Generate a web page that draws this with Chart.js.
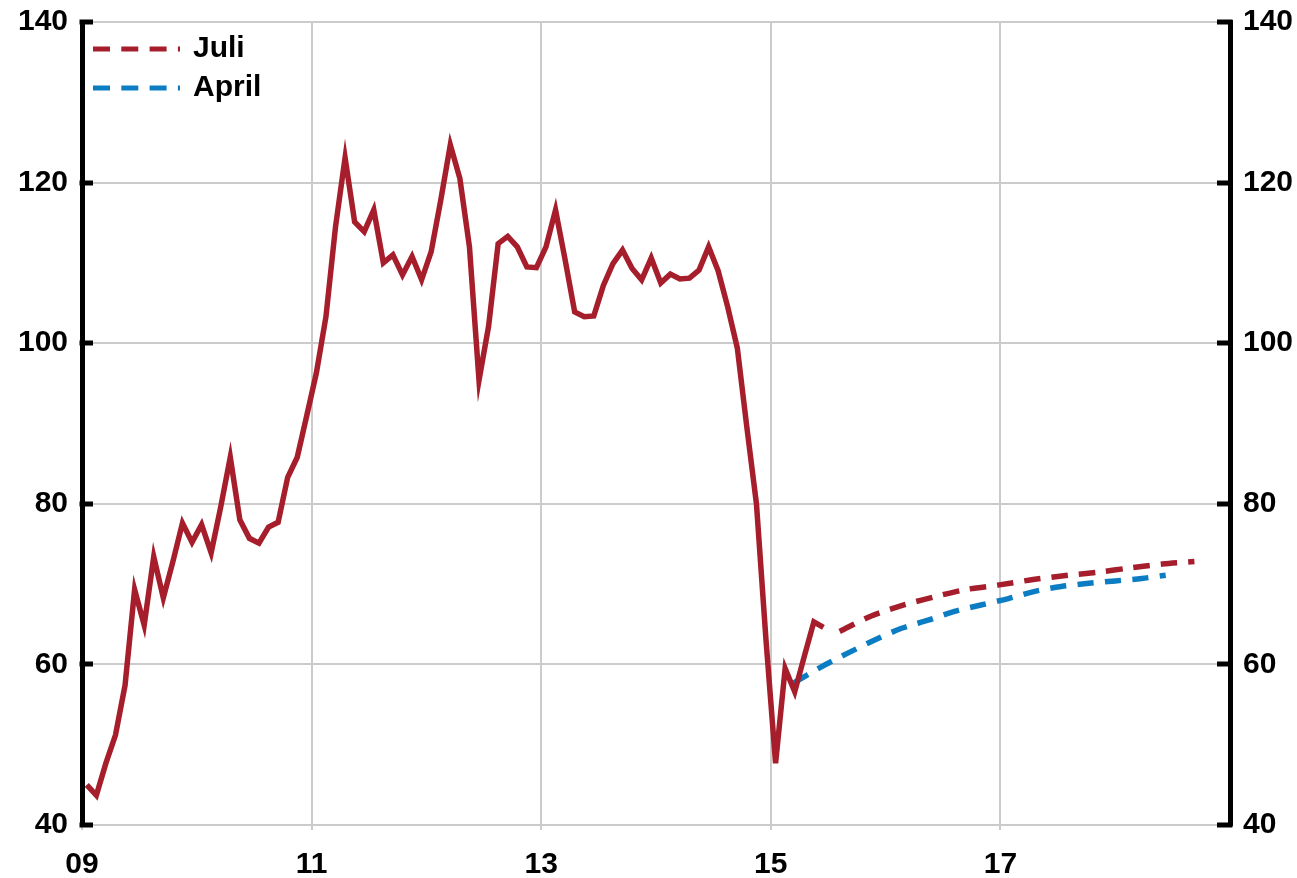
<!DOCTYPE html>
<html>
<head>
<meta charset="utf-8">
<script src="https://cdn.jsdelivr.net/npm/chart.js@4.4.1/dist/chart.umd.min.js"></script>
<style>
html,body{margin:0;padding:0;background:#fff;}
#wrap{width:1297px;height:878px;position:relative;}
</style>
</head>
<body>
<div id="wrap"><canvas id="c"></canvas></div>
<script>
// ---- Data ----
const startYear = 2009; // monthly observations from January 2009
const actualValues = [
  45.0, 43.7, 47.7, 51.2, 57.4, 69.3, 64.9, 73.4, 68.3, 72.8, 77.6, 75.2,
  77.4, 73.9, 79.6, 85.8, 78.0, 75.7, 75.1, 77.1, 77.7, 83.3, 85.8, 91.0,
  96.3, 103.3, 114.5, 123.1, 115.1, 113.9, 116.6, 110.0, 111.0, 108.5, 110.8, 107.9,
  111.4, 117.8, 124.7, 120.5, 112.0, 95.4, 102.1, 112.4, 113.3, 112.0, 109.5, 109.4,
  112.0, 116.6, 110.4, 103.9, 103.3, 103.4, 107.2, 109.9, 111.6, 109.3, 107.9, 110.6,
  107.5, 108.6, 108.0, 108.1, 109.1, 112.0, 109.0, 104.5, 99.4, 89.5, 80.0, 63.0,
  47.7, 59.5, 56.6, 61.0, 65.3, 64.6
];
const juliYears  = [2015.60, 2015.87, 2016.16, 2016.42, 2016.69, 2016.99, 2017.30, 2017.59, 2017.86, 2018.12, 2018.41, 2018.69];
const juliValues = [64.1, 66.0, 67.4, 68.4, 69.3, 69.9, 70.6, 71.1, 71.5, 72.0, 72.5, 72.8];
const aprilYears  = [2015.20, 2015.44, 2015.67, 2015.90, 2016.14, 2016.37, 2016.60, 2016.83, 2017.07, 2017.30, 2017.53, 2017.77, 2018.00, 2018.23, 2018.44];
const aprilValues = [57.7, 59.7, 61.4, 63.0, 64.5, 65.5, 66.6, 67.4, 68.2, 69.1, 69.7, 70.1, 70.4, 70.7, 71.1];
const seriesLabels = ['', 'Juli', 'April'];
const xTickValues = [2009, 2011, 2013, 2015, 2017];
const xTickLabels = ['09', '11', '13', '15', '17'];
const yMin = 40, yMax = 140, yStep = 20;
const xMin = 2009, xMax = 2019;

// ---- Build library structures ----
const actualPoints = actualValues.map((v, i) => ({ x: startYear + (i + 0.5) / 12, y: v }));
const juliPoints = juliYears.map((x, i) => ({ x: x, y: juliValues[i] }));
const aprilPoints = aprilYears.map((x, i) => ({ x: x, y: aprilValues[i] }));

const RED = '#A61E2B';
const BLUE = '#0D7DC3';
const GRID = '#cbcbcb';
const FONT = "'Liberation Sans', Arial, sans-serif";
const tickFont = { family: FONT, size: 30, weight: 'bold' };

const axisTicks = {
  id: 'axisTicks',
  afterDraw(chart) {
    const { ctx, chartArea: a, scales } = chart;
    ctx.save();
    ctx.strokeStyle = '#000';
    ctx.lineWidth = 5;
    ctx.lineCap = 'butt';
    scales.y.ticks.forEach(t => {
      const py = Math.round(scales.y.getPixelForValue(t.value));
      ctx.beginPath(); ctx.moveTo(a.left - 2.5, py); ctx.lineTo(a.left + 11, py); ctx.stroke();
    });
    scales.y2.ticks.forEach(t => {
      const py = Math.round(scales.y2.getPixelForValue(t.value));
      ctx.beginPath(); ctx.moveTo(a.right + 2.5, py); ctx.lineTo(a.right - 13, py); ctx.stroke();
    });
    ctx.restore();
  }
};

const insideLegend = {
  id: 'insideLegend',
  afterDraw(chart) {
    const { ctx } = chart;
    const rows = [{ ds: 1, y: 49 }, { ds: 2, y: 88 }];
    ctx.save();
    rows.forEach(r => {
      const ds = chart.data.datasets[r.ds];
      ctx.strokeStyle = ds.borderColor;
      ctx.lineWidth = 5;
      ctx.setLineDash([17, 11.3]);
      ctx.beginPath(); ctx.moveTo(93, r.y); ctx.lineTo(180, r.y); ctx.stroke();
      ctx.setLineDash([]);
      ctx.fillStyle = '#000';
      ctx.font = 'bold 30px ' + FONT;
      ctx.textBaseline = 'middle';
      ctx.textAlign = 'left';
      ctx.fillText(ds.label, 193, r.y);
    });
    ctx.restore();
  }
};

const noPad = s => { s.paddingTop = 0; s.paddingBottom = 0; };

new Chart(document.getElementById('c'), {
  type: 'line',
  data: {
    datasets: [
      { label: seriesLabels[0], data: actualPoints, borderColor: RED, borderWidth: 5.5, pointRadius: 0, tension: 0, fill: false },
      { label: seriesLabels[1], data: juliPoints, borderColor: RED, borderWidth: 5.5, borderDash: [16.5, 11], pointRadius: 0, tension: 0.3, fill: false },
      { label: seriesLabels[2], data: aprilPoints, borderColor: BLUE, borderWidth: 5.5, borderDash: [16.5, 11], pointRadius: 0, tension: 0.3, fill: false }
    ]
  },
  options: {
    responsive: true,
    maintainAspectRatio: false,
    animation: false,
    devicePixelRatio: 1,
    layout: { padding: { top: 22, left: 0, right: 0, bottom: 0 } },
    plugins: { legend: { display: false }, tooltip: { enabled: false } },
    scales: {
      x: {
        type: 'linear', position: 'bottom', min: xMin, max: xMax,
        afterBuildTicks: s => { s.ticks = xTickValues.map(v => ({ value: v })); },
        afterFit: s => { s.height = 53; s.paddingLeft = 0; s.paddingRight = 0; },
        ticks: {
          autoSkip: false, maxRotation: 0, color: '#000', font: tickFont, padding: 17,
          callback: (v) => { const i = xTickValues.indexOf(v); return i >= 0 ? xTickLabels[i] : ''; }
        },
        grid: {
          color: c => (c.tick && c.tick.value === xMin) ? 'rgba(0,0,0,0)' : GRID,
          lineWidth: 2, drawTicks: true, tickLength: 5, tickColor: GRID
        },
        border: { display: false }
      },
      y: {
        position: 'left', min: yMin, max: yMax,
        afterFit: s => { s.width = 82; noPad(s); },
        ticks: { stepSize: yStep, color: '#000', font: tickFont, padding: 14 },
        grid: { color: GRID, lineWidth: 2, drawTicks: false },
        border: { display: true, color: '#000', width: 5 }
      },
      y2: {
        position: 'right', min: yMin, max: yMax,
        afterFit: s => { s.width = 67; noPad(s); },
        ticks: { stepSize: yStep, color: '#000', font: tickFont, padding: 13 },
        grid: { drawOnChartArea: false, drawTicks: false },
        border: { display: true, color: '#000', width: 5 }
      }
    }
  },
  plugins: [axisTicks, insideLegend]
});
</script>
</body>
</html>
